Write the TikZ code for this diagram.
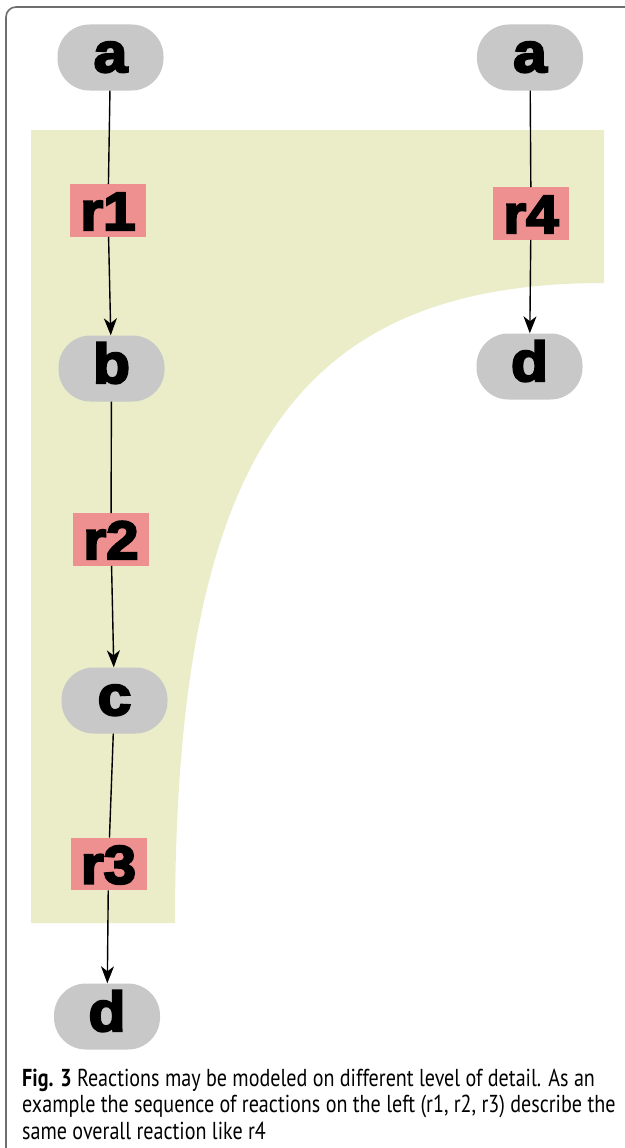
\documentclass[tikz,border=0pt]{standalone}
\usepackage{fontspec}
\setmainfont{Liberation Sans}
\newfontfamily\nodefont{Liberation Sans}[BoldFeatures={FakeBold=4,FakeStretch=1.08}]
\newfontfamily\capfont{PT Sans}[FakeStretch=0.82]
\usetikzlibrary{arrows.meta}
\definecolor{pillgray}{RGB}{200,200,200}
\definecolor{rpink}{RGB}{239,144,144}
\definecolor{bggreen}{RGB}{234,237,200}
\definecolor{framegray}{RGB}{110,110,110}
\begin{document}
\begin{tikzpicture}[x=1pt,y=-1pt,
  pill/.style={fill=pillgray, rounded corners=32pt, minimum width=106pt, minimum height=66pt,
    inner sep=0pt, font=\nodefont\bfseries\fontsize{56}{56}\selectfont, text height=29pt, text depth=0pt},
  rbox/.style={fill=rpink, minimum width=76pt, minimum height=52.5pt, inner sep=0pt,
    font=\nodefont\bfseries\fontsize{54}{54}\selectfont, text height=39pt, text depth=0pt},
  link/.style={line width=1.4pt},
  arrowlink/.style={link, -{Stealth[length=17pt,width=13pt,inset=5pt]}},
  captext/.style={anchor=base west, inner sep=0pt, font=\capfont\fontsize{24.5}{26.5}\selectfont}
]
\useasboundingbox (0,0) rectangle (624,1148);
\fill[white] (0,0) rectangle (624,1148);
% background region
\fill[bggreen] (31,130) -- (604,130) -- (604,283)
  .. controls (300,283) and (175,450) .. (175,923) -- (31,923) -- cycle;
% frame
\draw[framegray, line width=1.6pt, rounded corners=10pt] (6,1160) -- (6,7) -- (640,7);
% nodes
\node[pill] (a1) at (110.5,57.5) {a};
\node[rbox] (r1) at (108,210.5) {r1};
\node[pill] (b) at (111.5,368.5) {b};
\node[rbox] (r2) at (111,539.5) {r2};
\node[pill] (c) at (114.5,700.5) {c};
\node[rbox] (r3) at (108.5,864) {r3};
\node[pill] (d1) at (107,1016.5) {d};
\node[pill] (a2) at (530,57.5) {a};
\node[rbox] (r4) at (531,213.5) {r4};
\node[pill] (d2) at (529.5,366.5) {d};
% connectors
\draw[link] (a1) -- (r1);
\draw[arrowlink] (r1) -- (b);
\draw[link] (b) -- (r2);
\draw[arrowlink] (r2) -- (c);
\draw[link] (c) -- (r3);
\draw[arrowlink] (r3) -- (d1);
\draw[link] (a2) -- (r4);
\draw[arrowlink] (r4) -- (d2);
% caption
\node[captext] (cap1) at (22,1086.7) {\textbf{Fig. 3} Reactions may be modeled on different level of detail. As an};
\node[captext] (cap2) at (22,1112.7) {example the sequence of reactions on the left (r1, r2, r3) describe the};
\node[captext] (cap3) at (22,1139.3) {same overall reaction like r4};
\end{tikzpicture}
\end{document}
